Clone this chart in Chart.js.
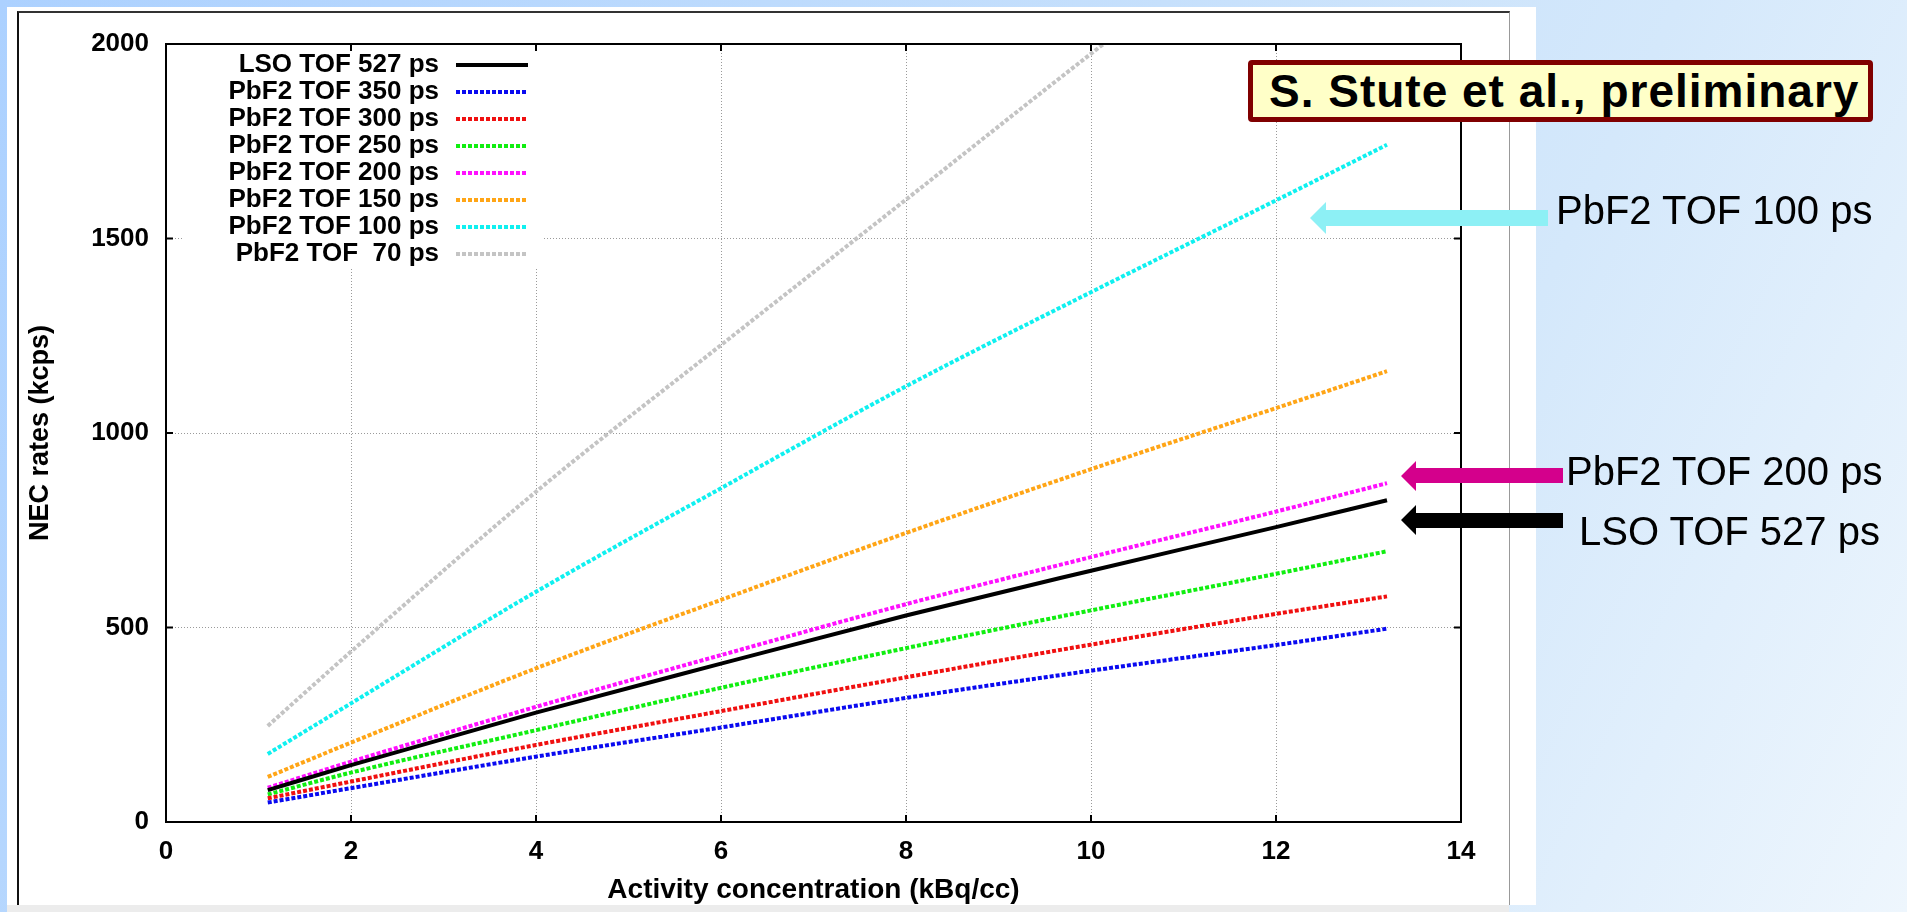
<!DOCTYPE html>
<html>
<head>
<meta charset="utf-8">
<title>NEC rates vs activity concentration</title>
<script src="https://cdn.jsdelivr.net/npm/chart.js@4.4.1/dist/chart.umd.min.js"></script>
<style>
  html, body { margin: 0; padding: 0; }
  body {
    width: 1907px; height: 912px; overflow: hidden; position: relative;
    background: linear-gradient(115deg, #acd1ff 0%, #c6e0fc 50%, #d4e8fb 72%, #eef6fd 100%);
    font-family: 'Liberation Sans', Arial, sans-serif;
  }
  #panel { position: absolute; left: 7px; top: 7px; width: 1529px; height: 898px; background: #fff; }
  #panelFoot { position: absolute; left: 7px; top: 905px; width: 1502px; height: 7px; background: #ececec; }
  #frame {
    position: absolute; left: 17px; top: 11px; width: 1493px; height: 894px; box-sizing: border-box;
    border-left: 2px solid #111; border-top: 2px solid #333; border-right: 1px solid #999;
  }
  #wrap { position: absolute; left: 0; top: 0; width: 1907px; height: 912px; }
  svg.arrows { position: absolute; left: 0; top: 0; }
  .note { position: absolute; font-size: 40px; line-height: 40px; color: #000; white-space: pre; }
  #credit {
    position: absolute; left: 1248px; top: 60px; width: 625px; height: 62px; box-sizing: border-box;
    border: 5px solid #800000; border-radius: 4px; background: #ffffc8;
    font-weight: bold; font-size: 46px; line-height: 52px; padding-left: 16px;
    letter-spacing: 1px; white-space: pre;
  }
</style>
</head>
<body>
<div id="panel"></div>
<div id="panelFoot"></div>
<div id="frame"></div>
<div id="wrap"><canvas id="necChart"></canvas></div>

<svg class="arrows" width="1907" height="912">
  <polygon points="1310,218 1326,202 1326,210 1548,210 1548,226 1326,226 1326,234" fill="#8df0f5"/>
  <polygon points="1401,476 1416,461 1416,468 1563,468 1563,483 1416,483 1416,491" fill="#d4008c"/>
  <polygon points="1401,520 1416,505 1416,513 1563,513 1563,528 1416,528 1416,535" fill="#000"/>
</svg>
<div id="credit">S. Stute et al., preliminary</div>
<div class="note" style="left:1556px; top:190px;">PbF2 TOF 100 ps</div>
<div class="note" style="left:1566px; top:451px;">PbF2 TOF 200 ps</div>
<div class="note" style="left:1579px; top:511px;">LSO TOF 527 ps</div>

<script>
// activity concentration (kBq/cc)
const xValues = [1.1, 2, 4, 6, 8, 10, 12, 13.2];

// NEC rates (kcps)
const lso527 = [82, 146, 281, 407, 531, 646, 758, 827];
const pbf350 = [50, 87, 168, 243, 319, 389, 455, 497];
const pbf300 = [61, 104, 198, 285, 372, 456, 535, 580];
const pbf250 = [71, 127, 236, 345, 447, 544, 638, 696];
const pbf200 = [88, 155, 296, 429, 560, 681, 798, 871];
const pbf150 = [116, 204, 395, 571, 743, 907, 1064, 1159];
const pbf100 = [175, 305, 592, 858, 1120, 1362, 1598, 1741];
const pbf70 = [247, 438, 849, 1226, 1600, 1975, 2340, 2555];

const seriesLabels = [
  'LSO TOF 527 ps', 'PbF2 TOF 350 ps', 'PbF2 TOF 300 ps', 'PbF2 TOF 250 ps',
  'PbF2 TOF 200 ps', 'PbF2 TOF 150 ps', 'PbF2 TOF 100 ps', 'PbF2 TOF  70 ps'
];
const seriesValues = [lso527, pbf350, pbf300, pbf250, pbf200, pbf150, pbf100, pbf70];
const seriesColors = ['#000000', '#0a0af0', '#f01010', '#10ee10', '#ff10ff', '#ffa516', '#10f0f0', '#c4c4c4'];

const xTickValues = [0, 2, 4, 6, 8, 10, 12, 14];
const yTickValues = [0, 500, 1000, 1500, 2000];

Chart.defaults.font.family = "'Liberation Sans', Arial, sans-serif";
Chart.defaults.color = '#000';

// gnuplot style key: text right aligned, sample line after it
const keyBox = {
  id: 'keyBox',
  beforeDatasetsDraw(chart) {
    const { ctx, chartArea: a } = chart;
    ctx.save();
    ctx.fillStyle = '#fff';
    ctx.fillRect(a.left + 17, a.top + 1, 360, 222);
    ctx.font = "bold 26px 'Liberation Sans', Arial, sans-serif";
    ctx.textAlign = 'right';
    ctx.textBaseline = 'middle';
    chart.data.datasets.forEach((ds, i) => {
      const yy = a.top + 21 + i * 27;
      ctx.fillStyle = '#000';
      ctx.fillText(ds.label, a.left + 273, yy);
      ctx.strokeStyle = ds.borderColor;
      ctx.lineWidth = ds.borderWidth;
      ctx.setLineDash(ds.borderDash);
      ctx.beginPath();
      ctx.moveTo(a.left + 290, yy);
      ctx.lineTo(a.left + 362, yy);
      ctx.stroke();
    });
    ctx.restore();
  }
};

// closed border with inward ticks
const plotFrame = {
  id: 'plotFrame',
  afterDatasetsDraw(chart) {
    const { ctx, chartArea: a, scales } = chart;
    ctx.save();
    ctx.strokeStyle = '#000';
    ctx.lineWidth = 2;
    ctx.strokeRect(a.left, a.top, a.width, a.height);
    ctx.beginPath();
    scales.x.ticks.forEach(t => {
      const px = scales.x.getPixelForValue(t.value);
      ctx.moveTo(px, a.bottom); ctx.lineTo(px, a.bottom - 7);
      ctx.moveTo(px, a.top); ctx.lineTo(px, a.top + 7);
    });
    scales.y.ticks.forEach(t => {
      const py = scales.y.getPixelForValue(t.value);
      ctx.moveTo(a.left, py); ctx.lineTo(a.left + 7, py);
      ctx.moveTo(a.right, py); ctx.lineTo(a.right - 7, py);
    });
    ctx.stroke();
    ctx.restore();
  }
};

new Chart(document.getElementById('necChart'), {
  type: 'line',
  data: {
    datasets: seriesLabels.map((label, i) => ({
      label: label,
      data: xValues.map((x, j) => ({ x: x, y: seriesValues[i][j] })),
      borderColor: seriesColors[i],
      borderWidth: 4,
      borderDash: i === 0 ? [] : [4, 2],
      borderCapStyle: 'butt',
      pointRadius: 0,
      cubicInterpolationMode: 'monotone',
      clip: 0,
      fill: false
    }))
  },
  options: {
    responsive: true,
    maintainAspectRatio: false,
    animation: false,
    layout: { padding: { left: 0, top: 44, right: 446, bottom: 0 } },
    plugins: {
      legend: { display: false },
      tooltip: { enabled: false }
    },
    scales: {
      x: {
        type: 'linear',
        min: 0,
        max: 14,
        afterBuildTicks: scale => { scale.ticks = xTickValues.map(v => ({ value: v })); },
        afterFit: scale => { scale.height = 90; },
        grid: { color: '#9a9a9a', lineWidth: 1, drawTicks: false },
        border: { display: false, dash: [1, 2] },
        ticks: { padding: 14, font: { size: 26, weight: 'bold' }, color: '#000', callback: v => String(v) },
        title: {
          display: true,
          text: 'Activity concentration (kBq/cc)',
          font: { size: 28, weight: 'bold' },
          padding: { top: 0, bottom: 5 },
          color: '#000'
        }
      },
      y: {
        min: 0,
        max: 2000,
        afterBuildTicks: scale => { scale.ticks = yTickValues.map(v => ({ value: v })); },
        afterFit: scale => { scale.width = 166; },
        grid: { color: '#9a9a9a', lineWidth: 1, drawTicks: false },
        border: { display: false, dash: [1, 2] },
        ticks: { padding: 17, font: { size: 26, weight: 'bold' }, color: '#000', callback: v => String(v) },
        title: {
          display: true,
          text: 'NEC rates (kcps)',
          font: { size: 27, weight: 'bold' },
          padding: { top: 24, bottom: 0 },
          color: '#000'
        }
      }
    }
  },
  plugins: [keyBox, plotFrame]
});
</script>
</body>
</html>
